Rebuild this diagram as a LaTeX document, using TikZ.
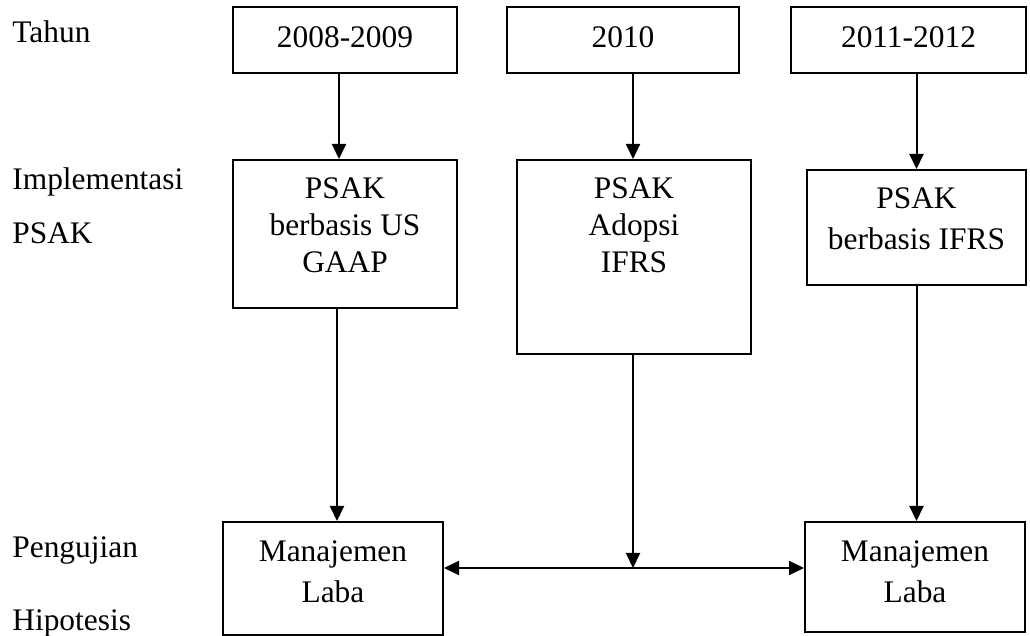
\documentclass[tikz,border=0pt]{standalone}
\usepackage{fontspec}
\setmainfont{Liberation Serif}
\usetikzlibrary{arrows.meta}
\begin{document}
\begin{tikzpicture}[x=0.5pt,y=-0.5pt,
  box/.style={draw, line width=1pt, inner sep=0pt},
  txt/.style={font=\fontsize{15.7}{18.5}\selectfont, align=center, anchor=base, inner sep=0pt},
  txtw/.style={font=\fontsize{15.7}{20.5}\selectfont, align=center, anchor=base, inner sep=0pt},
  lbl/.style={font=\fontsize{15.7}{18.5}\selectfont, anchor=base west, inner sep=0pt},
  arr/.style={line width=1pt, -{Triangle[length=7.5pt,width=7pt]}},
  darr/.style={line width=1pt, {Triangle[length=7.5pt,width=7pt]}-{Triangle[length=7.5pt,width=7pt]}}]
\useasboundingbox (0,0) rectangle (1030,636);
% left labels
\node[lbl] (l1) at (12,43) {Tahun};
\node[lbl] (l2) at (12,190) {Implementasi};
\node[lbl] (l3) at (12,244) {PSAK};
\node[lbl] (l4) at (12,558) {Pengujian};
\node[lbl] (l5) at (12,631) {Hipotesis};
% boxes
\node[box, minimum width=112pt, minimum height=33pt] (A1) at (345,40) {};
\node[box, minimum width=116pt, minimum height=33pt] (A2) at (623,40) {};
\node[box, minimum width=117.5pt, minimum height=33pt] (A3) at (908.5,40) {};
\node[box, minimum width=112pt, minimum height=74pt] (B1) at (345,234) {};
\node[box, minimum width=117pt, minimum height=97pt] (B2) at (634,257) {};
\node[box, minimum width=109.5pt, minimum height=57.5pt] (B3) at (916.5,227.5) {};
\node[box, minimum width=110pt, minimum height=56.5pt] (C1) at (333,578.5) {};
\node[box, minimum width=110pt, minimum height=55pt] (C2) at (915,577) {};
% texts (anchor = baseline of the last line)
\node[txt] (tA1) at (345,48) {2008-2009};
\node[txt] (tA2) at (623,48) {2010};
\node[txt] (tA3) at (908.5,48) {2011-2012};
\node[txt] (tB1) at (345,273) {PSAK\\berbasis US\\GAAP};
\node[txt] (tB2) at (634,273) {PSAK\\Adopsi\\IFRS};
\node[txtw] (tB3) at (916.5,250) {PSAK\\berbasis IFRS};
\node[txtw] (tC1) at (333,603) {Manajemen\\Laba};
\node[txtw] (tC2) at (915,603) {Manajemen\\Laba};
% connectors
\coordinate (x1) at (339,0);
\coordinate (x2) at (337,0);
\coordinate (J) at (633,568);
\coordinate (hy) at (0,568);
\draw[arr] (A1.south -| x1) -- (B1.north -| x1);
\draw[arr] (B1.south -| x2) -- (C1.north -| x2);
\draw[arr] (A2.south -| J) -- (B2.north -| J);
\draw[arr] (B2.south -| J) -- (J);
\draw[arr] (A3.south -| B3.north) -- (B3.north);
\draw[arr] (B3.south) -- (B3.south |- C2.north);
\draw[darr] (C1.east |- hy) -- (C2.west |- hy);
\end{tikzpicture}
\end{document}
